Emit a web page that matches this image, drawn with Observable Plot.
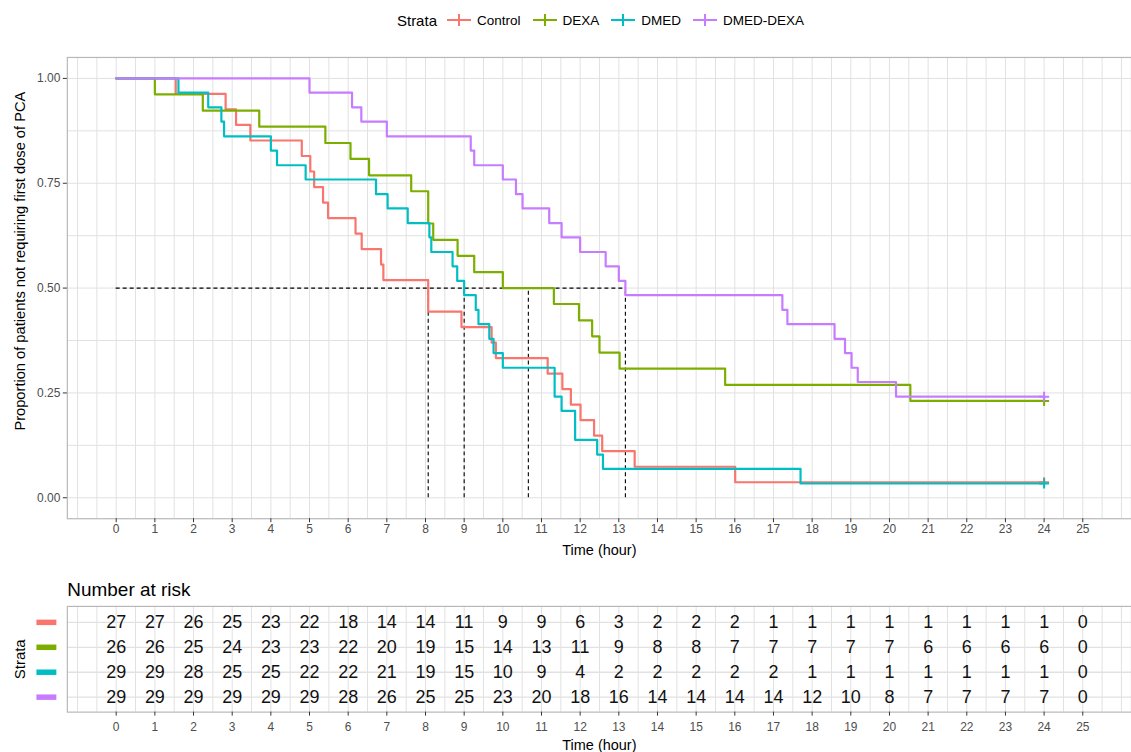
<!DOCTYPE html>
<html><head><meta charset="utf-8">
<script src="https://cdn.jsdelivr.net/npm/d3@7"></script>
<script src="https://cdn.jsdelivr.net/npm/@observablehq/plot@0.6"></script>
<style>
html,body{margin:0;padding:0;background:#fff;overflow:hidden;width:1131px;height:752px;}
body{font-family:"Liberation Sans",Arial,sans-serif;position:relative;}
#legend{position:absolute;left:0;top:0;width:1131px;height:40px;display:flex;align-items:center;justify-content:center;padding-left:70px;box-sizing:border-box;}
#legend .title{font-size:15px;color:#000;margin-right:9px;}
#legend .lab{font-size:13.5px;color:#000;margin-left:5px;margin-right:11px;}
#legend svg{display:block;}
#main{position:absolute;left:0;top:40px;}
#risk{position:absolute;left:0;top:570px;}
</style>
</head><body>
<div id="legend"></div>
<div id="main"></div>
<div id="risk"></div>
<script>
// ---- data ----
const strata = ["Control", "DEXA", "DMED", "DMED-DEXA"];
const colors = ["#F8766D", "#7CAE00", "#00BFC4", "#C77CFF"];

const controlTime = [0, 1.54, 2.83, 3.10, 3.47, 4.80, 5.02, 5.12, 5.35, 5.48, 6.19, 6.35, 6.85, 6.91, 8.07, 8.93, 9.71, 9.82, 11.16, 11.54, 11.76, 12.01, 12.36, 12.57, 13.41, 16.01, 24];
const controlSurv = [1, 0.963, 0.926, 0.889, 0.852, 0.815, 0.778, 0.741, 0.704, 0.667, 0.630, 0.593, 0.556, 0.519, 0.444, 0.407, 0.370, 0.333, 0.296, 0.259, 0.222, 0.185, 0.148, 0.111, 0.074, 0.037, 0.037];

const dexaTime = [0, 1.0, 2.24, 3.70, 5.41, 6.06, 6.54, 7.63, 8.07, 8.20, 8.83, 9.26, 10.0, 11.32, 11.97, 12.31, 12.50, 13.02, 15.75, 20.54, 24];
const dexaSurv = [1, 0.962, 0.923, 0.885, 0.846, 0.808, 0.769, 0.731, 0.654, 0.615, 0.577, 0.538, 0.500, 0.462, 0.423, 0.385, 0.346, 0.308, 0.269, 0.231, 0.231];

const dmedTime = [0, 1.61, 2.38, 2.72, 2.79, 4.0, 4.16, 4.90, 6.72, 7.02, 7.54, 8.10, 8.15, 8.70, 8.82, 9.0, 9.30, 9.37, 9.65, 9.76, 10.0, 11.34, 11.52, 11.87, 12.44, 12.59, 17.70, 24];
const dmedSurv = [1, 0.966, 0.931, 0.897, 0.862, 0.828, 0.793, 0.759, 0.724, 0.690, 0.655, 0.621, 0.586, 0.552, 0.517, 0.483, 0.448, 0.414, 0.379, 0.345, 0.310, 0.241, 0.207, 0.138, 0.103, 0.069, 0.034, 0.034];

const dmedDexaTime = [0, 5.0, 6.10, 6.34, 7.0, 9.17, 9.26, 10.0, 10.34, 10.51, 11.20, 11.52, 12.0, 12.66, 13.0, 13.17, 17.23, 17.36, 18.58, 18.85, 19.02, 19.18, 20.17, 24];
const dmedDexaSurv = [1, 0.966, 0.931, 0.897, 0.862, 0.828, 0.793, 0.759, 0.724, 0.690, 0.655, 0.621, 0.586, 0.552, 0.517, 0.483, 0.448, 0.414, 0.379, 0.345, 0.310, 0.276, 0.241, 0.241];

const medianTimes = [8.07, 9.0, 10.66, 13.17];
const medianLevel = 0.5;
const timeStart = 0;

const riskTimes = [0,1,2,3,4,5,6,7,8,9,10,11,12,13,14,15,16,17,18,19,20,21,22,23,24,25];
const riskControl  = [27,27,26,25,23,22,18,14,14,11,9,9,6,3,2,2,2,1,1,1,1,1,1,1,1,0];
const riskDexa     = [26,26,25,24,23,23,22,20,19,15,14,13,11,9,8,8,7,7,7,7,7,6,6,6,6,0];
const riskDmed     = [29,29,28,25,25,22,22,21,19,15,10,9,4,2,2,2,2,2,1,1,1,1,1,1,1,0];
const riskDmedDexa = [29,29,29,29,29,29,28,26,25,25,23,20,18,16,14,14,14,14,12,10,8,7,7,7,7,0];

const xTicks = riskTimes;
const yTicks = [0, 0.25, 0.5, 0.75, 1];
const yLabels = ["0.00", "0.25", "0.50", "0.75", "1.00"];

// ---- tables ----
const series = [
  {name: "Control", time: controlTime, surv: controlSurv},
  {name: "DEXA", time: dexaTime, surv: dexaSurv},
  {name: "DMED", time: dmedTime, surv: dmedSurv},
  {name: "DMED-DEXA", time: dmedDexaTime, surv: dmedDexaSurv}
];
const rows = series.flatMap(s => s.time.map((t, i) => ({strata: s.name, time: t, surv: s.surv[i]})));
const censors = series.map(s => ({strata: s.name, time: s.time[s.time.length - 1], surv: s.surv[s.surv.length - 1]}));
const riskSeries = [riskControl, riskDexa, riskDmed, riskDmedDexa];
const riskRows = strata.flatMap((s, k) => riskTimes.map((t, i) => ({strata: s, time: t, n: riskSeries[k][i]})));

const xGrid = d3.range(-1, 26.01, 0.5);
const yGrid = d3.range(0, 1.001, 0.125);

const font = "Liberation Sans, Arial, sans-serif";
const W = 1134;
const xDomain = [-1.264, 26.26];
const color = {domain: strata, range: colors};
const gridStroke = "#e1e1e1";
const frameStroke = "#b8b8b8";
const tickStroke = "#333";
const labelFill = "#4d4d4d";

const plusSymbol = {draw(ctx, size) { const r = Math.sqrt(size / Math.PI); ctx.moveTo(-r, 0); ctx.lineTo(r, 0); ctx.moveTo(0, -r); ctx.lineTo(0, r); }};
const barSymbol = {draw(ctx, size) { ctx.rect(-10, -2.75, 20, 5.5); }};

// ---- legend ----
const legend = document.getElementById("legend");
legend.innerHTML = `<span class="title">Strata</span>` + strata.map((s, i) =>
  `<svg width="26" height="16"><line x1="1" x2="25" y1="8" y2="8" stroke="${colors[i]}" stroke-width="2"/><line x1="13" x2="13" y1="2" y2="14" stroke="${colors[i]}" stroke-width="2"/></svg><span class="lab"${i === strata.length - 1 ? ' style="margin-right:0"' : ''}>${s}</span>`
).join("");

// ---- main survival chart ----
const main = Plot.plot({
  width: W, height: 530,
  marginLeft: 67, marginRight: 0, marginTop: 17, marginBottom: 50.5,
  style: {fontFamily: font, fontSize: "12px", background: "#fff", overflow: "visible"},
  x: {domain: xDomain},
  y: {domain: [-0.05, 1.05]},
  color,
  marks: [
    Plot.gridX(xGrid, {stroke: gridStroke, strokeOpacity: 1, strokeWidth: 1}),
    Plot.gridY(yGrid, {stroke: gridStroke, strokeOpacity: 1, strokeWidth: 1}),
    Plot.frame({stroke: frameStroke, strokeWidth: 1.2}),
    Plot.ruleY([medianLevel], {x1: timeStart, x2: d3.max(medianTimes), stroke: "#000", strokeWidth: 1.1, strokeDasharray: "4,3"}),
    Plot.ruleX(medianTimes, {y1: 0, y2: medianLevel, stroke: "#000", strokeWidth: 1.1, strokeDasharray: "4,3"}),
    Plot.line(rows, {x: "time", y: "surv", z: "strata", stroke: "strata", curve: "step-after", strokeWidth: 2.2}),
    Plot.dot(censors, {x: "time", y: "surv", stroke: "strata", fill: "none", symbol: plusSymbol, r: 5, strokeWidth: 2}),
    Plot.axisX(xTicks, {tickSize: 4, tickPadding: 2, stroke: tickStroke, fill: labelFill, fontSize: 12, label: null}),
    Plot.axisY(yTicks, {tickSize: 4, tickPadding: 3, stroke: tickStroke, fill: labelFill, fontSize: 12, tickFormat: (d, i) => yLabels[i], label: null}),
    Plot.text(["Time (hour)"], {frameAnchor: "bottom", lineAnchor: "middle", dy: 31.5, fontSize: 14.5, fill: "#000"}),
    Plot.text(["Proportion of patients not requiring first dose of PCA"], {frameAnchor: "left", textAnchor: "middle", lineAnchor: "middle", dx: -47, dy: -27, rotate: -90, fontSize: 14.7, fill: "#000"})
  ]
});
document.getElementById("main").appendChild(main);

// ---- number at risk table ----
const risk = Plot.plot({
  width: W, height: 182,
  marginLeft: 67, marginRight: 0, marginTop: 36, marginBottom: 40,
  style: {fontFamily: font, fontSize: "12px", background: "#fff", overflow: "visible"},
  x: {domain: xDomain},
  y: {type: "point", domain: strata, padding: 0.58, axis: null},
  color,
  marks: [
    Plot.gridX(xGrid, {stroke: gridStroke, strokeOpacity: 1, strokeWidth: 1}),
    Plot.gridY(strata, {stroke: gridStroke, strokeOpacity: 1, strokeWidth: 1.3}),
    Plot.frame({stroke: frameStroke, strokeWidth: 1.2}),
    Plot.text(riskRows, {x: "time", y: "strata", text: "n", fontSize: 18, fill: "#111"}),
    Plot.dot(strata, {y: d => d, frameAnchor: "left", dx: -21, symbol: barSymbol, fill: d => d, stroke: "none", r: 5}),
    Plot.axisX(xTicks, {tickSize: 4, tickPadding: 6, stroke: tickStroke, fill: labelFill, fontSize: 12, label: null}),
    Plot.text(["Time (hour)"], {frameAnchor: "bottom", lineAnchor: "middle", dy: 33, fontSize: 14.5, fill: "#000"}),
    Plot.text(["Strata"], {frameAnchor: "left", textAnchor: "middle", lineAnchor: "middle", dx: -47, rotate: -90, fontSize: 15, fill: "#000"}),
    Plot.text(["Number at risk"], {frameAnchor: "top-left", textAnchor: "start", lineAnchor: "middle", dy: -17, fontSize: 19, fill: "#000"})
  ]
});
document.getElementById("risk").appendChild(risk);
</script>
</body></html>
